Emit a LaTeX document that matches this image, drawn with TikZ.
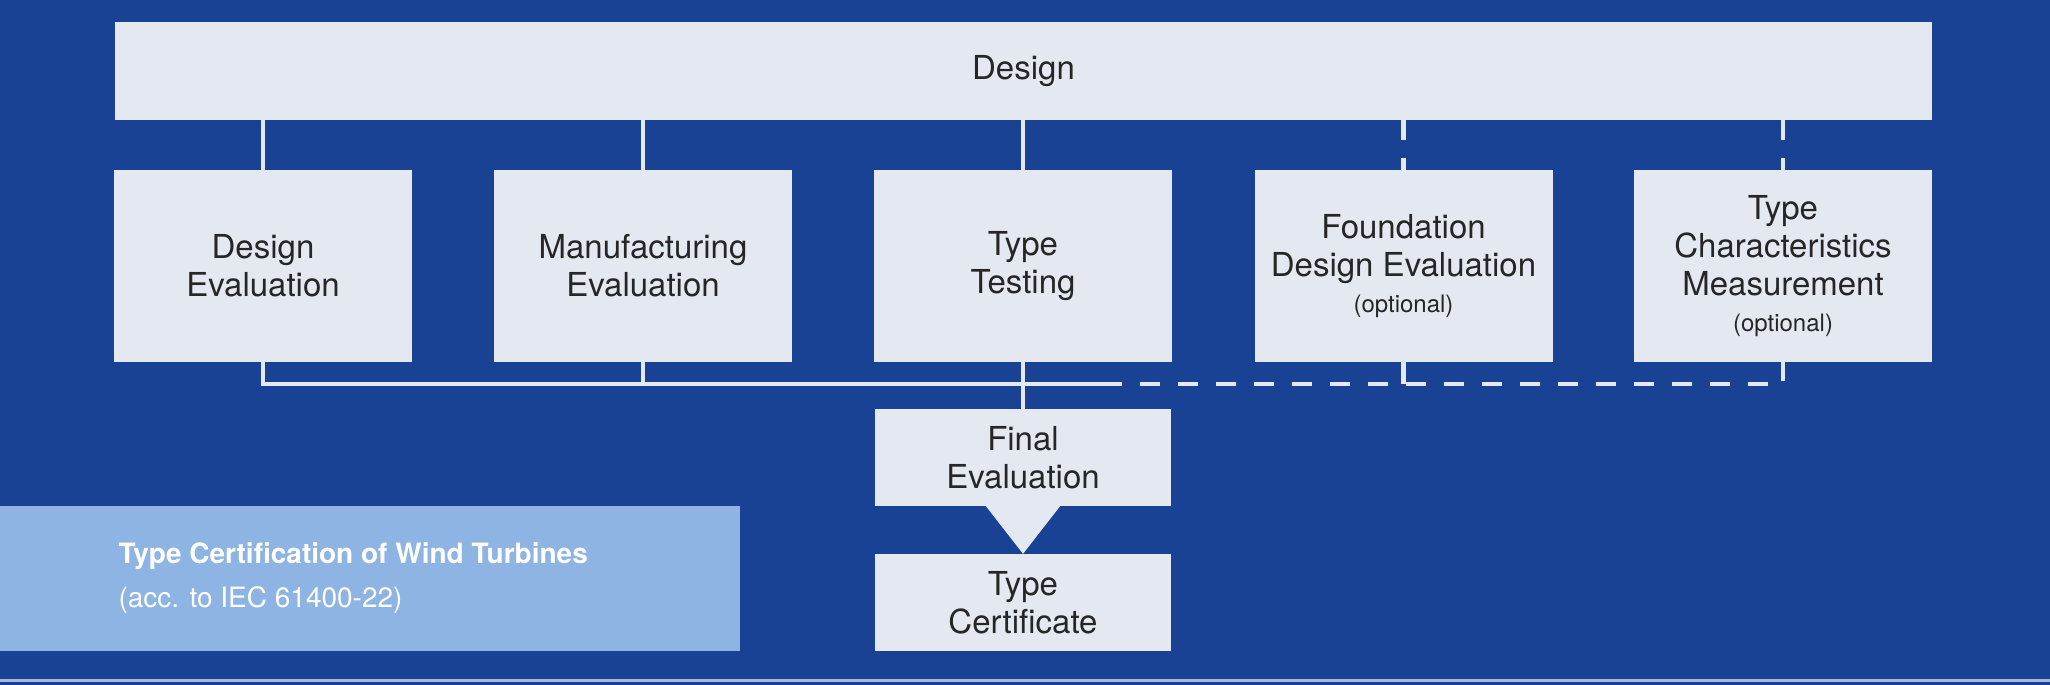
\documentclass[tikz,border=0pt]{standalone}
\usepackage{fontspec}
\setmainfont{TeX Gyre Heros}
\definecolor{bg}{HTML}{1A4294}
\definecolor{boxc}{HTML}{E4E8F1}
\definecolor{lbl}{HTML}{8DB4E2}
\begin{document}
\begin{tikzpicture}[x=1pt,y=-1pt,
  box/.style={fill=boxc,inner sep=0pt,align=center,text=black!85,font=\fontsize{33}{38}\selectfont},
  ln/.style={draw=boxc,line width=4.5pt},
  dl/.style={ln,dash pattern=on 20pt off 18pt},
  opt/.style={font=\fontsize{24}{28}\selectfont}]
\useasboundingbox (0,0) rectangle (2050,685);
\fill[bg] (0,0) rectangle (2050,685);
\draw[boxc!70!bg,line width=3pt] (0,680) -- (2050,680);
\node[box,minimum width=1817pt,minimum height=98pt] (design) at (1023.5,71) {Design};
\foreach \n/\x/\t in {de/263/{Design\\Evaluation},me/643/{Manufacturing\\Evaluation},tt/1023/{Type\\Testing},
  fd/1403.5/{Foundation\\Design Evaluation\\[-2pt]{\fontsize{24}{28}\selectfont(optional)}},
  tc/1783/{Type\\Characteristics\\Measurement\\[-2pt]{\fontsize{24}{28}\selectfont(optional)}}}
  \node[box,minimum width=298pt,minimum height=192pt] (\n) at (\x,266) {\t};
\node[box,minimum width=296pt,minimum height=97pt] (fe) at (1023,457.5) {Final\\Evaluation};
\node[box,minimum width=296pt,minimum height=97pt] (cert) at (1023,602.5) {Type\\Certificate};
\fill[boxc] (985,505) -- (1061,505) -- (cert.north) -- cycle;
\node[fill=lbl,minimum width=740pt,minimum height=145pt,inner sep=0pt] (lab) at (370,578.5) {};
\node[anchor=west,text=white,font=\fontsize{28}{44}\selectfont,align=left] (labt) at (115,578) {\textbf{Type Certification of Wind Turbines}\\(acc. to IEC 61400-22)};
\coordinate (b1) at (263,384);
\coordinate (bm) at (1102,384);
\coordinate (b4) at (1403.5,384);
\coordinate (b5) at (1783,384);
\foreach \n in {de,me,tt} \draw[ln] (design.south -| \n) -- (\n.north);
\foreach \n in {fd,tc} \draw[dl] (design.south -| \n) -- (\n.north);
\draw[ln] (de.south) -- (b1) -- (bm);
\draw[ln] (me.south) -- (me.south |- b1);
\draw[ln] (tt.south) -- (fe.north);
\draw[dl] (bm) -- (b5) -- (tc.south);
\draw[ln] (fd.south) -- (b4);
\end{tikzpicture}
\end{document}
